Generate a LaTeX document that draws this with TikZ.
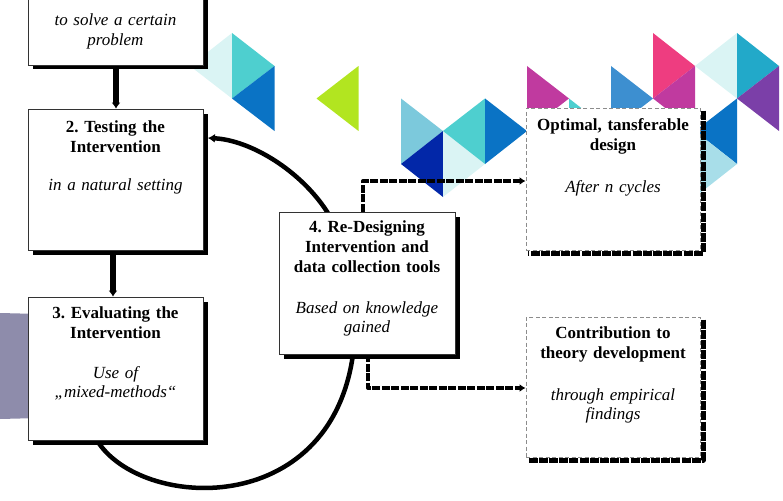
\documentclass[tikz,border=0pt]{standalone}
\usepackage{fontspec}
\setmainfont{Liberation Serif}
\usetikzlibrary{arrows.meta,shadows,calc}
\frenchspacing

% triangle palette
\definecolor{triPale}{HTML}{DAF4F4}
\definecolor{triTeal}{HTML}{4ECFCF}
\definecolor{triBlue}{HTML}{0A73C5}
\definecolor{triLime}{HTML}{B2E520}
\definecolor{triSky}{HTML}{7CC9DC}
\definecolor{triNavy}{HTML}{0227A8}
\definecolor{triMagenta}{HTML}{C03A9F}
\definecolor{triMid}{HTML}{3D8FD0}
\definecolor{triPink}{HTML}{EE3D80}
\definecolor{triCyan}{HTML}{22A9C9}
\definecolor{triPurple}{HTML}{7B3FA8}
\definecolor{triIce}{HTML}{A8DEE9}
\definecolor{sideSlate}{HTML}{8E8CAB}

\begin{document}
\begin{tikzpicture}[x=1pt,y=-1pt,
  solidbox/.style={draw=black!80, line width=0.8pt, fill=white,
    minimum width=175pt, inner sep=0pt,
    drop shadow={shadow xshift=4.5pt, shadow yshift=-4.5pt, fill=black, opacity=1}},
  dashbox/.style={draw=black!45, line width=1pt, dash pattern=on 4pt off 2.5pt,
    fill=white, minimum width=174pt, inner sep=0pt},
  boxshade/.style={draw=black, line width=5pt, dash pattern=on 9pt off 1.2pt,
    line join=round},
  title/.style={font=\fontsize{17}{20}\selectfont\bfseries, text width=185pt,
    align=center, inner sep=0pt, anchor=base},
  note/.style={font=\fontsize{17}{19.5}\selectfont\itshape, text width=185pt,
    align=center, inner sep=0pt, anchor=base},
  flow/.style={line width=5.5pt, -{Latex[length=6pt,width=9pt]}},
  cycle/.style={line width=4.5pt, -{Latex[length=7pt,width=9pt]}},
  dflow/.style={line width=4pt, dash pattern=on 8pt off 1.5pt, line join=round,
    -{Latex[length=6pt,width=8pt]}}
]
\useasboundingbox (0,0) rectangle (783,500);

% slate band on the left edge
\fill[sideSlate] (0,313) -- (40,314) -- (40,418) -- (0,419) -- cycle;

% decorative triangles on a grid of columns and rows
\def\cA{190}\def\cB{232}\def\cC{274.5}\def\cD{316.5}\def\cE{358.5}
\def\cF{401}\def\cG{443}\def\cH{485}\def\cI{527}\def\cJ{569}
\def\cK{611}\def\cL{653}\def\cM{695}\def\cN{737}\def\cO{779}
\def\rA{33}\def\rB{66}\def\rC{98.5}\def\rD{131}\def\rE{164}\def\rF{197}

\fill[triPale]    (\cB,\rA) -- (\cB,\rC) -- (\cA,\rB) -- cycle;
\fill[triTeal]    (\cB,\rA) -- (\cB,\rC) -- (\cC,\rB) -- cycle;
\fill[triBlue]    (\cB,\rC) -- (\cC,\rB) -- (\cC,\rD) -- cycle;
\fill[triLime]    (\cE,\rB) -- (\cE,\rD) -- (\cD,\rC) -- cycle;
\fill[triSky]     (\cF,\rC) -- (\cF,\rE) -- (\cG,\rD) -- cycle;
\fill[triNavy]    (\cF,\rE) -- (\cG,\rD) -- (\cG,\rF) -- cycle;
\fill[triPale]    (\cG,\rD) -- (\cG,\rF) -- (\cH,\rE) -- cycle;
\fill[triTeal]    (\cG,\rD) -- (\cH,\rC) -- (\cH,\rE) -- cycle;
\fill[triBlue]    (\cH,\rC) -- (\cH,\rE) -- (\cI,\rD) -- cycle;
\fill[triMagenta] (\cI,\rB) -- (\cI,\rD) -- (\cJ,\rC) -- cycle;
\fill[triTeal]    (\cJ,\rC) -- (\cJ,\rE) -- (\cK,\rD) -- cycle;
\fill[triMid]     (\cK,\rB) -- (\cK,\rD) -- (\cL,\rC) -- cycle;
\fill[triPink]    (\cL,\rA) -- (\cL,\rC) -- (\cM,\rB) -- cycle;
\fill[triMagenta] (\cL,\rC) -- (\cM,\rB) -- (\cM,\rD) -- cycle;
\fill[triPale]    (\cM,\rB) -- (\cN,\rA) -- (\cN,\rC) -- cycle;
\fill[triCyan]    (\cN,\rA) -- (\cN,\rC) -- (\cO,\rB) -- cycle;
\fill[triPurple]  (\cN,\rC) -- (\cO,\rB) -- (\cO,\rD) -- cycle;
\fill[triBlue]    (\cM,\rD) -- (\cN,\rC) -- (\cN,\rE) -- cycle;
\fill[triIce]     (\cM,\rD) -- (\cN,\rE) -- (\cM,\rF) -- cycle;

% box outlines (placed first so connectors can refer to them)
\path
  (115.5,2.5)   node[solidbox, minimum height=125pt] (b1) {}
  (115.5,179.5) node[solidbox, minimum height=141pt] (b2) {}
  (115.5,368.5) node[solidbox, minimum height=143pt] (b3) {}
  (367,283)     node[solidbox, minimum width=176pt, minimum height=142pt] (b4) {}
  (613,179)     node[dashbox, minimum height=142pt] (b5) {}
  (613,387)     node[dashbox, minimum height=140pt] (b6) {};

% cycle from evaluation back to testing, passing behind the re-design box
\coordinate (cycStart) at ($(b3.south)+(-18.5,0)$);
\coordinate (cycLow)   at ($(b4.south)+(-14,0)$);
\coordinate (cycHigh)  at ($(b4.north)+(-40,0)$);
\coordinate (cycEnd)   at ($(b2.east)+(4.5,-41.5)$);
\draw[cycle] (cycStart) .. controls (140,510) and (330,520) .. (cycLow)
  .. controls (362,300) and (350,250) .. (cycHigh)
  .. controls (300,170) and (250,140) .. (cycEnd);

% outcome connectors
\draw[dflow] ($(b4.north)+(-4,0)$) |- ($(b5.west)+(0,2)$);
\draw[dflow] ($(b4.south)+(1,0)$) |- ($(b6.west)+(0,1)$);

% redraw boxes on top of the connectors
\path
  (115.5,2.5)   node[solidbox, minimum height=125pt] (b1) {}
  (115.5,179.5) node[solidbox, minimum height=141pt] (b2) {}
  (115.5,368.5) node[solidbox, minimum height=143pt] (b3) {}
  (367,283)     node[solidbox, minimum width=176pt, minimum height=142pt] (b4) {}
  (613,179)     node[dashbox, minimum height=142pt] (b5) {}
  (613,387)     node[dashbox, minimum height=140pt] (b6) {};

% heavy dashed shade of the outcome boxes
\draw[boxshade] ($(b5.north east)+(2.5,3)$) -- ($(b5.south east)+(2.5,2.5)$) -- ($(b5.south west)+(2,2.5)$);
\draw[boxshade] ($(b6.north east)+(2.5,3)$) -- ($(b6.south east)+(2.5,2.5)$) -- ($(b6.south west)+(2,2.5)$);

% step arrows
\draw[flow] ($(b1.south)+(0.5,4)$) -- ($(b2.north)+(0.5,0)$);
\draw[flow] ($(b2.south)+(-2.5,4)$) -- ($(b3.north)+(-2.5,0)$);

% texts
\node[note]  (t1b) at (115.5,26)  {to solve a certain\\problem};
\node[title] (t2a) at (115.5,132) {2. Testing the\\Intervention};
\node[note]  (t2b) at (115.5,190) {in a natural setting};
\node[title] (t3a) at (115.5,318) {3. Evaluating the\\Intervention};
\node[note]  (t3b) at (115.5,378) {Use of\\„mixed-methods“};
\node[title] (t4a) at (367,232)   {4. Re-Designing\\Intervention and\\data collection tools};
\node[note]  (t4b) at (367,313)   {Based on knowledge\\gained};
\node[title] (t5a) at (613,130)   {Optimal, tansferable\\design};
\node[note]  (t5b) at (613,192)   {After n cycles};
\node[title] (t6a) at (613,338)   {Contribution to\\theory development};
\node[note]  (t6b) at (613,400)   {through empirical\\findings};
\end{tikzpicture}
\end{document}
